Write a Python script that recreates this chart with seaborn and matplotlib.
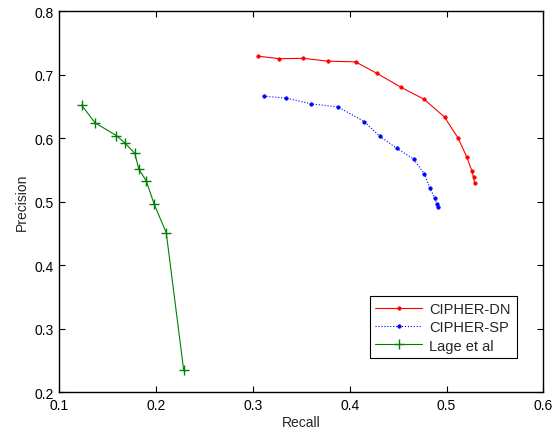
import matplotlib
matplotlib.use("Agg")
import matplotlib.pyplot as plt
import seaborn as sns
import pandas as pd

dn_recall = [0.305, 0.327, 0.352, 0.378, 0.406, 0.428, 0.453, 0.477, 0.498, 0.512, 0.521, 0.526, 0.528, 0.529]
dn_precision = [0.729, 0.725, 0.7255, 0.721, 0.720, 0.702, 0.680, 0.661, 0.633, 0.600, 0.570, 0.549, 0.538, 0.529]

sp_recall = [0.311, 0.334, 0.360, 0.388, 0.415, 0.431, 0.4485, 0.466, 0.477, 0.483, 0.488, 0.490, 0.491]
sp_precision = [0.666, 0.663, 0.654, 0.649, 0.626, 0.603, 0.584, 0.567, 0.544, 0.521, 0.505, 0.497, 0.491]

lage_recall = [0.123, 0.137, 0.159, 0.168, 0.178, 0.182, 0.190, 0.198, 0.2105, 0.2285]
lage_precision = [0.652, 0.624, 0.604, 0.592, 0.576, 0.552, 0.532, 0.496, 0.451, 0.235]

series_names = ["CIPHER-DN", "CIPHER-SP", "Lage et al"]
x_ticks = [0.1, 0.2, 0.3, 0.4, 0.5, 0.6]
y_ticks = [0.2, 0.3, 0.4, 0.5, 0.6, 0.7, 0.8]

sns.set_style("white")
plt.rcParams['font.family'] = ['Liberation Sans', 'DejaVu Sans']

fig = plt.figure(figsize=(5.54, 4.35), dpi=100)
ax = fig.add_axes([0.107, 0.0959, 0.8737, 0.8765])

df_dn = pd.DataFrame({"Recall": dn_recall, "Precision": dn_precision})
df_sp = pd.DataFrame({"Recall": sp_recall, "Precision": sp_precision})
df_lg = pd.DataFrame({"Recall": lage_recall, "Precision": lage_precision})

red = (1, 0, 0)
blue = (0, 0, 1)
green = (0, 0.5, 0)

sns.lineplot(data=df_dn, x="Recall", y="Precision", ax=ax, color=red,
             linewidth=0.8, marker=".", markersize=5, markeredgewidth=0.5,
             markeredgecolor=red, markerfacecolor=red,
             estimator=None, sort=False, label=series_names[0])
sns.lineplot(data=df_sp, x="Recall", y="Precision", ax=ax, color=blue,
             linewidth=0.8, linestyle=":", marker=".", markersize=5, markeredgewidth=0.5,
             markeredgecolor=blue, markerfacecolor=blue,
             estimator=None, sort=False, label=series_names[1])
sns.lineplot(data=df_lg, x="Recall", y="Precision", ax=ax, color=green,
             linewidth=0.8, marker="+", markersize=7, markeredgewidth=1.0,
             markeredgecolor=green,
             estimator=None, sort=False, label=series_names[2])

ax.set_xlim(0.1, 0.6)
ax.set_ylim(0.2, 0.8)
ax.set_xticks(x_ticks)
ax.set_yticks(y_ticks)
ax.set_xticklabels([f"{t:g}" for t in x_ticks])
ax.set_yticklabels([f"{t:g}" for t in y_ticks])
ax.set_xlabel("Recall", fontsize=10, labelpad=2)
ax.set_ylabel("Precision", fontsize=10, labelpad=4)
ax.tick_params(direction="in", length=4, width=0.8, labelsize=10, colors="black",
               top=True, right=True, bottom=True, left=True, pad=4)
for s in ax.spines.values():
    s.set_color("black")
    s.set_linewidth(1.0)
ax.grid(False)

leg = ax.legend(loc="lower right", bbox_to_anchor=(0.945, 0.089), fontsize=10.5,
                frameon=True, fancybox=False, edgecolor="black", framealpha=1,
                borderpad=0.4, handlelength=3.2, labelspacing=0.3, handletextpad=0.5,
                borderaxespad=0)
leg.get_frame().set_linewidth(0.8)

fig.savefig("out.png", dpi=100)
